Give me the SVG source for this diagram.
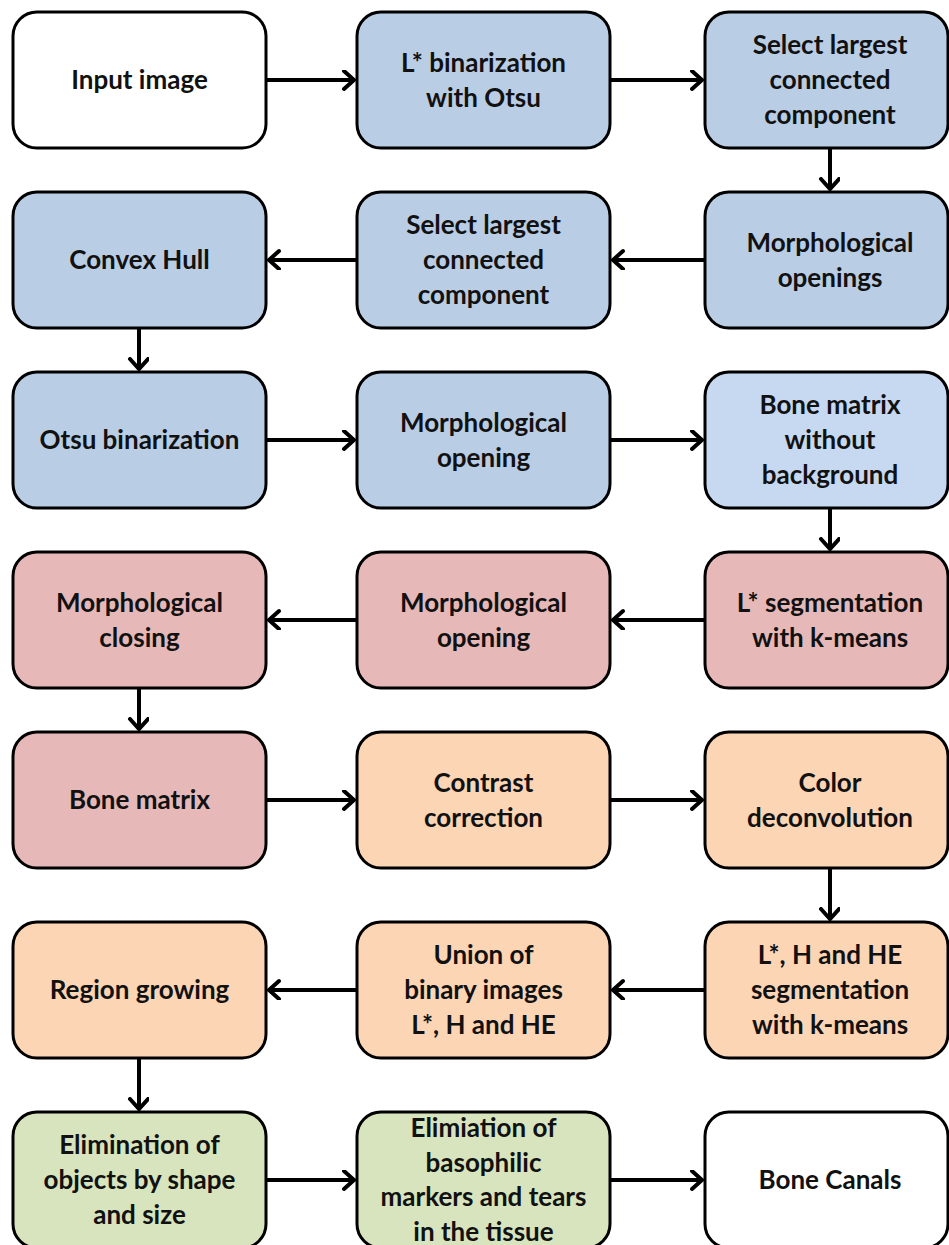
<svg xmlns="http://www.w3.org/2000/svg" width="949" height="1245" viewBox="0 0 949 1245">
<defs>
<marker id="ah" markerUnits="userSpaceOnUse" markerWidth="20" markerHeight="24" refX="12" refY="10" orient="auto" viewBox="0 0 20 24">
<path d="M2,1 L12,10 L2,19" fill="none" stroke="#000" stroke-width="4" stroke-linecap="round" stroke-linejoin="miter"/>
</marker>
</defs>
<style>
.b{stroke:#000;stroke-width:3}
.w{fill:#fff}.bl{fill:#B9CDE5}.lb{fill:#C6D9F1}.pk{fill:#E6B9B8}.or{fill:#FCD5B5}.gr{fill:#D7E4BD}
text{font-family:Lato,"Liberation Sans",sans-serif;font-weight:700;font-size:26px;fill:#111;text-anchor:middle}
.c line{stroke:#000;stroke-width:4;marker-end:url(#ah)}
</style>
<g id="n1"><rect class="b w" x="13" y="12" width="253" height="136" rx="24"/><text x="139.5" y="89">Input image</text></g>
<g id="n2"><rect class="b bl" x="357" y="12" width="253" height="136" rx="24"/><text x="483.5" y="72">L* binarization</text><text x="483.5" y="107">with Otsu</text></g>
<g id="n3"><rect class="b bl" x="705" y="12" width="243" height="136" rx="24"/><text x="830" y="54">Select largest</text><text x="830" y="89">connected</text><text x="830" y="124">component</text></g>
<g id="n4"><rect class="b bl" x="705" y="192" width="243" height="136" rx="24"/><text x="830" y="252">Morphological</text><text x="830" y="287">openings</text></g>
<g id="n5"><rect class="b bl" x="357" y="192" width="253" height="136" rx="24"/><text x="483.5" y="234">Select largest</text><text x="483.5" y="269">connected</text><text x="483.5" y="304">component</text></g>
<g id="n6"><rect class="b bl" x="13" y="192" width="253" height="136" rx="24"/><text x="139.5" y="269">Convex Hull</text></g>
<g id="n7"><rect class="b bl" x="13" y="372" width="253" height="136" rx="24"/><text x="139.5" y="449">Otsu binarization</text></g>
<g id="n8"><rect class="b bl" x="357" y="372" width="253" height="136" rx="24"/><text x="483.5" y="432">Morphological</text><text x="483.5" y="467">opening</text></g>
<g id="n9"><rect class="b lb" x="705" y="372" width="243" height="136" rx="24"/><text x="830" y="414">Bone matrix</text><text x="830" y="449">without</text><text x="830" y="484">background</text></g>
<g id="n10"><rect class="b pk" x="705" y="552" width="243" height="136" rx="24"/><text x="830" y="612">L* segmentation</text><text x="830" y="647">with k-means</text></g>
<g id="n11"><rect class="b pk" x="357" y="552" width="253" height="136" rx="24"/><text x="483.5" y="612">Morphological</text><text x="483.5" y="647">opening</text></g>
<g id="n12"><rect class="b pk" x="13" y="552" width="253" height="136" rx="24"/><text x="139.5" y="612">Morphological</text><text x="139.5" y="647">closing</text></g>
<g id="n13"><rect class="b pk" x="13" y="732" width="253" height="136" rx="24"/><text x="139.5" y="809">Bone matrix</text></g>
<g id="n14"><rect class="b or" x="357" y="732" width="253" height="136" rx="24"/><text x="483.5" y="792">Contrast</text><text x="483.5" y="827">correction</text></g>
<g id="n15"><rect class="b or" x="705" y="732" width="243" height="136" rx="24"/><text x="830" y="792">Color</text><text x="830" y="827">deconvolution</text></g>
<g id="n16"><rect class="b or" x="705" y="922" width="243" height="136" rx="24"/><text x="830" y="964">L*, H and HE</text><text x="830" y="999">segmentation</text><text x="830" y="1034">with k-means</text></g>
<g id="n17"><rect class="b or" x="357" y="922" width="253" height="136" rx="24"/><text x="483.5" y="964">Union of</text><text x="483.5" y="999">binary images</text><text x="483.5" y="1034">L*, H and HE</text></g>
<g id="n18"><rect class="b or" x="13" y="922" width="253" height="136" rx="24"/><text x="139.5" y="999">Region growing</text></g>
<g id="n19"><rect class="b gr" x="13" y="1112" width="253" height="136" rx="24"/><text x="139.5" y="1154">Elimination of</text><text x="139.5" y="1189">objects by shape</text><text x="139.5" y="1224">and size</text></g>
<g id="n20"><rect class="b gr" x="357" y="1112" width="253" height="136" rx="24"/><text x="483.5" y="1137">Elimiation of</text><text x="483.5" y="1172">basophilic</text><text x="483.5" y="1206">markers and tears</text><text x="483.5" y="1241">in the tissue</text></g>
<g id="n21"><rect class="b w" x="705" y="1112" width="243" height="136" rx="24"/><text x="830" y="1189">Bone Canals</text></g>
<g id="connectors" class="c">
<line x1="266" y1="80" x2="354" y2="80"/>
<line x1="610" y1="80" x2="702" y2="80"/>
<line x1="830" y1="148" x2="830" y2="189"/>
<line x1="705" y1="260" x2="613" y2="260"/>
<line x1="357" y1="260" x2="269" y2="260"/>
<line x1="139" y1="328" x2="139" y2="369"/>
<line x1="266" y1="440" x2="354" y2="440"/>
<line x1="610" y1="440" x2="702" y2="440"/>
<line x1="830" y1="508" x2="830" y2="549"/>
<line x1="705" y1="620" x2="613" y2="620"/>
<line x1="357" y1="620" x2="269" y2="620"/>
<line x1="139" y1="688" x2="139" y2="729"/>
<line x1="266" y1="800" x2="354" y2="800"/>
<line x1="610" y1="800" x2="702" y2="800"/>
<line x1="830" y1="868" x2="830" y2="919"/>
<line x1="705" y1="990" x2="613" y2="990"/>
<line x1="357" y1="990" x2="269" y2="990"/>
<line x1="139" y1="1058" x2="139" y2="1109"/>
<line x1="266" y1="1180" x2="354" y2="1180"/>
<line x1="610" y1="1180" x2="702" y2="1180"/>
</g>
</svg>
